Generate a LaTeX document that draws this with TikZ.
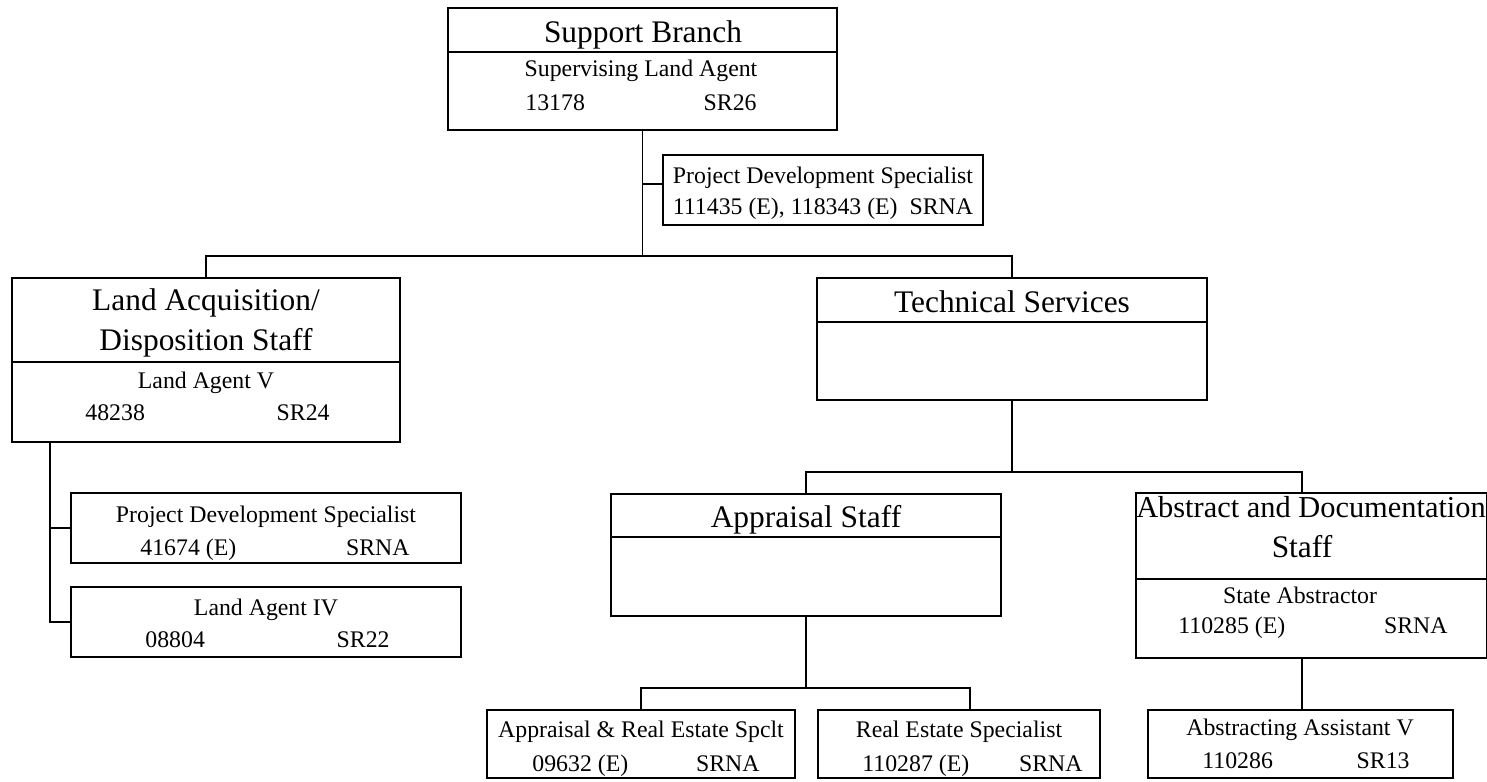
\documentclass[tikz,border=0pt]{standalone}
\usepackage{fontspec}
\setmainfont{Liberation Serif}
\newcommand\orgbox[5]{%
  \node[obox, minimum width={(#4-#2)*0.5pt}, minimum height={(#5-#3)*0.5pt}] (#1) at ({(#2+#4)/2},{(#3+#5)/2}) {};}
\tikzset{
  obox/.style={draw, line width=0.9pt, inner sep=0pt, outer sep=0pt, rectangle},
  ttl/.style={anchor=base, font=\fontsize{15.7}{18}\selectfont, inner sep=0pt},
  txt/.style={anchor=base, font=\fontsize{11.9}{14}\selectfont, inner sep=0pt},
  txtl/.style={txt, anchor=base west},
  txtr/.style={txt, anchor=base east},
  conn/.style={line width=0.9pt},
}
\begin{document}
\begin{tikzpicture}[x=0.5pt, y=-0.5pt]
\useasboundingbox[fill=white] (0,0) rectangle (1487,781);
% boxes
\orgbox{sb}{448}{8}{837}{130}
\orgbox{pds1}{663}{155}{983}{225}
\orgbox{la}{12}{278}{400}{442}
\orgbox{pdsb}{71}{493}{461}{563}
\orgbox{lafour}{71}{587}{461}{657}
\orgbox{ts}{817}{278}{1207}{400}
\orgbox{app}{611}{494}{1001}{616}
\orgbox{abs}{1136}{493}{1487}{658}
\orgbox{ares}{487}{710}{795}{778}
\orgbox{res}{818}{710}{1100}{778}
\orgbox{aa}{1148}{710}{1453}{778}
% dividers
\draw[conn] (sb.west |- 0,52) -- (sb.east |- 0,52);
\draw[conn] (la.west |- 0,362) -- (la.east |- 0,362);
\draw[conn] (ts.west |- 0,322) -- (ts.east |- 0,322);
\draw[conn] (app.west |- 0,537) -- (app.east |- 0,537);
\draw[conn] (abs.west |- 0,579) -- (abs.east |- 0,579);
% texts
\node[ttl] (sbt) at (643,43) {Support Branch};
\node[txt] (sbj) at (641,77) {Supervising Land Agent};
\node[txtl] (sbn) at (525,111) {13178};
\node[txtr] (sbg) at (757,111) {SR26};
\node[txt] (p1j) at (823,183) {Project Development Specialist};
\node[txt] (p1n) at (823,214) {111435 (E), 118343 (E)\enspace SRNA};
\node[ttl] (lat1) at (206,310) {Land Acquisition/};
\node[ttl] (lat2) at (206,350) {Disposition Staff};
\node[txt] (laj) at (206,388) {Land Agent V};
\node[txtl] (lan) at (85,420) {48238};
\node[txtr] (lag) at (330,420) {SR24};
\node[txt] (p2j) at (266,522) {Project Development Specialist};
\node[txtl] (p2n) at (140,555) {41674 (E)};
\node[txtr] (p2g) at (410,555) {SRNA};
\node[txt] (l4j) at (266,615) {Land Agent IV};
\node[txtl] (l4n) at (145,647) {08804};
\node[txtr] (l4g) at (390,647) {SR22};
\node[ttl] (tst) at (1012,312) {Technical Services};
\node[ttl] (appt) at (806,527) {Appraisal Staff};
\node[ttl, font=\fontsize{15.2}{18}\selectfont] (abst1) at (1311,517) {Abstract and Documentation};
\node[ttl] (abst2) at (1302,557) {Staff};
\node[txt] (absj) at (1300,603) {State Abstractor};
\node[txtl] (absn) at (1178,633) {110285 (E)};
\node[txtr] (absg) at (1448,633) {SRNA};
\node[txt] (aresj) at (641,737) {Appraisal \& Real Estate Spclt};
\node[txtl] (aresn) at (532,771) {09632 (E)};
\node[txtr] (aresg) at (760,771) {SRNA};
\node[txt] (resj) at (959,737) {Real Estate Specialist};
\node[txtl] (resn) at (862,771) {110287 (E)};
\node[txtr] (resg) at (1083,771) {SRNA};
\node[txt] (aaj) at (1300,735) {Abstracting Assistant V};
\node[txtl] (aan) at (1202,768) {110286};
\node[txtr] (aag) at (1410,768) {SR13};
% connectors
\coordinate (busL) at (206,256);
\coordinate (busR) at (1012,256);
\coordinate (pj) at (643,184);
\coordinate (lvt) at (50,0);
\coordinate (b2) at (0,472);
\coordinate (b3) at (0,688);
\coordinate (absc) at (1302,0);
\coordinate (resc) at (970,0);
\draw[conn] (sb.south) -- (sb.south |- busL);
\draw[conn] (la.north) -- (busL) -- (busR) -- (ts.north);
\draw[conn] (pj) -- (pj -| pds1.west);
\draw[conn] (la.south -| lvt) -- (lvt |- lafour.west) -- (lafour.west);
\draw[conn] (lvt |- pdsb.west) -- (pdsb.west);
\draw[conn] (ts.south) -- (ts.south |- b2);
\draw[conn] (app.north) -- (app.north |- b2) -- (absc |- b2) -- (absc |- abs.north);
\draw[conn] (absc |- abs.south) -- (absc |- aa.north);
\draw[conn] (app.south) -- (app.south |- b3);
\draw[conn] (ares.north) -- (ares.north |- b3) -- (resc |- b3) -- (resc |- res.north);
\end{tikzpicture}
\end{document}
